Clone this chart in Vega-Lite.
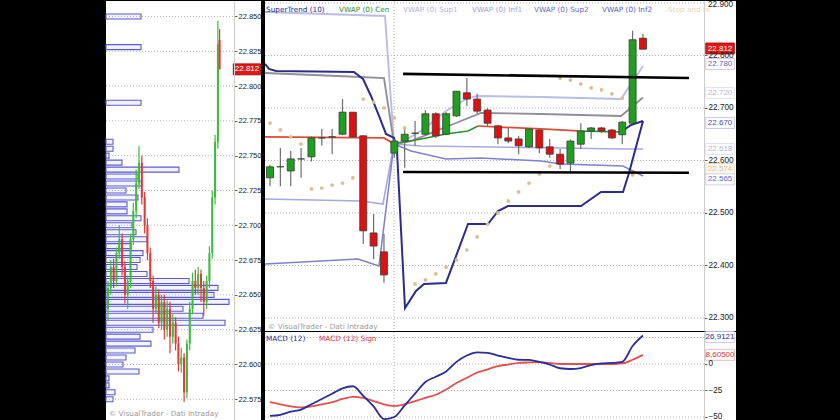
{
  "$schema": "https://vega.github.io/schema/vega-lite/v6.json",
  "background": "black",
  "padding": {"left": 105, "right": 105, "top": 0, "bottom": 0},
  "bounds": "flush",
  "spacing": 4,
  "config": {
    "view": {"fill": "white", "stroke": null},
    "axis": {"labelFont": "Liberation Sans", "labelFontSize": 8.2, "labelColor": "#222222", "tickColor": "#666666", "tickSize": 3, "domainColor": "#cccccc", "grid": false, "labelPadding": 1},
    "text": {"font": "DejaVu Sans"}
  },
  "datasets": {
    "profile": [
      {"p": 22.850, "vol": 35}, {"p": 22.828, "vol": 35}, {"p": 22.788, "vol": 35},
      {"p": 22.760, "vol": 7}, {"p": 22.755, "vol": 7}, {"p": 22.750, "vol": 3}, {"p": 22.745, "vol": 16},
      {"p": 22.740, "vol": 73}, {"p": 22.735, "vol": 32}, {"p": 22.730, "vol": 36}, {"p": 22.725, "vol": 20},
      {"p": 22.720, "vol": 32}, {"p": 22.715, "vol": 21}, {"p": 22.710, "vol": 21}, {"p": 22.705, "vol": 35},
      {"p": 22.700, "vol": 26}, {"p": 22.695, "vol": 30}, {"p": 22.690, "vol": 41}, {"p": 22.685, "vol": 25},
      {"p": 22.680, "vol": 37}, {"p": 22.675, "vol": 34}, {"p": 22.670, "vol": 31}, {"p": 22.665, "vol": 41},
      {"p": 22.660, "vol": 83}, {"p": 22.655, "vol": 112}, {"p": 22.650, "vol": 108}, {"p": 22.645, "vol": 123},
      {"p": 22.640, "vol": 77}, {"p": 22.635, "vol": 97}, {"p": 22.630, "vol": 119}, {"p": 22.625, "vol": 47},
      {"p": 22.620, "vol": 34}, {"p": 22.615, "vol": 45}, {"p": 22.610, "vol": 29}, {"p": 22.605, "vol": 20},
      {"p": 22.600, "vol": 17}, {"p": 22.595, "vol": 33}, {"p": 22.590, "vol": 3}, {"p": 22.585, "vol": 3},
      {"p": 22.580, "vol": 9}, {"p": 22.575, "vol": 7}
    ],
    "lc": [
      {"t": 0, "o": 22.640, "c": 22.655, "h": 22.660, "l": 22.632, "d": "u"},
      {"t": 1, "o": 22.655, "c": 22.670, "h": 22.675, "l": 22.650, "d": "u"},
      {"t": 2, "o": 22.670, "c": 22.660, "h": 22.676, "l": 22.655, "d": "d"},
      {"t": 3, "o": 22.660, "c": 22.680, "h": 22.684, "l": 22.656, "d": "u"},
      {"t": 4, "o": 22.680, "c": 22.690, "h": 22.700, "l": 22.676, "d": "u"},
      {"t": 5, "o": 22.690, "c": 22.670, "h": 22.694, "l": 22.664, "d": "d"},
      {"t": 6, "o": 22.670, "c": 22.650, "h": 22.674, "l": 22.644, "d": "d"},
      {"t": 7, "o": 22.650, "c": 22.660, "h": 22.664, "l": 22.640, "d": "u"},
      {"t": 8, "o": 22.660, "c": 22.690, "h": 22.694, "l": 22.655, "d": "u"},
      {"t": 9, "o": 22.690, "c": 22.710, "h": 22.716, "l": 22.686, "d": "u"},
      {"t": 10, "o": 22.710, "c": 22.730, "h": 22.740, "l": 22.705, "d": "u"},
      {"t": 11, "o": 22.730, "c": 22.745, "h": 22.757, "l": 22.726, "d": "u"},
      {"t": 12, "o": 22.745, "c": 22.720, "h": 22.750, "l": 22.715, "d": "d"},
      {"t": 13, "o": 22.720, "c": 22.700, "h": 22.724, "l": 22.694, "d": "d"},
      {"t": 14, "o": 22.700, "c": 22.680, "h": 22.705, "l": 22.675, "d": "d"},
      {"t": 15, "o": 22.680, "c": 22.660, "h": 22.684, "l": 22.655, "d": "d"},
      {"t": 16, "o": 22.660, "c": 22.640, "h": 22.664, "l": 22.630, "d": "d"},
      {"t": 17, "o": 22.640, "c": 22.650, "h": 22.656, "l": 22.636, "d": "u"},
      {"t": 18, "o": 22.650, "c": 22.630, "h": 22.654, "l": 22.626, "d": "d"},
      {"t": 19, "o": 22.630, "c": 22.645, "h": 22.650, "l": 22.625, "d": "u"},
      {"t": 20, "o": 22.645, "c": 22.625, "h": 22.650, "l": 22.618, "d": "d"},
      {"t": 21, "o": 22.625, "c": 22.640, "h": 22.646, "l": 22.620, "d": "u"},
      {"t": 22, "o": 22.640, "c": 22.620, "h": 22.645, "l": 22.608, "d": "d"},
      {"t": 23, "o": 22.620, "c": 22.630, "h": 22.636, "l": 22.615, "d": "u"},
      {"t": 24, "o": 22.630, "c": 22.615, "h": 22.634, "l": 22.610, "d": "d"},
      {"t": 25, "o": 22.615, "c": 22.600, "h": 22.620, "l": 22.595, "d": "d"},
      {"t": 26, "o": 22.600, "c": 22.605, "h": 22.612, "l": 22.594, "d": "u"},
      {"t": 27, "o": 22.605, "c": 22.580, "h": 22.608, "l": 22.573, "d": "d"},
      {"t": 28, "o": 22.580, "c": 22.615, "h": 22.618, "l": 22.576, "d": "u"},
      {"t": 29, "o": 22.615, "c": 22.640, "h": 22.645, "l": 22.610, "d": "u"},
      {"t": 30, "o": 22.640, "c": 22.660, "h": 22.666, "l": 22.636, "d": "u"},
      {"t": 31, "o": 22.660, "c": 22.655, "h": 22.668, "l": 22.650, "d": "d"},
      {"t": 32, "o": 22.655, "c": 22.665, "h": 22.670, "l": 22.650, "d": "u"},
      {"t": 33, "o": 22.665, "c": 22.655, "h": 22.668, "l": 22.645, "d": "d"},
      {"t": 34, "o": 22.655, "c": 22.645, "h": 22.660, "l": 22.635, "d": "d"},
      {"t": 35, "o": 22.645, "c": 22.660, "h": 22.664, "l": 22.640, "d": "u"},
      {"t": 36, "o": 22.660, "c": 22.680, "h": 22.685, "l": 22.655, "d": "u"},
      {"t": 37, "o": 22.680, "c": 22.720, "h": 22.725, "l": 22.676, "d": "u"},
      {"t": 38, "o": 22.720, "c": 22.760, "h": 22.765, "l": 22.715, "d": "u"},
      {"t": 39, "o": 22.760, "c": 22.830, "h": 22.847, "l": 22.755, "d": "u"},
      {"t": 39.6, "o": 22.833, "c": 22.812, "h": 22.841, "l": 22.812, "d": "d"}
    ],
    "candles": [
      {"i": 1, "o": 22.567, "h": 22.592, "l": 22.551, "c": 22.588, "d": "u"},
      {"i": 2, "o": 22.588, "h": 22.624, "l": 22.551, "c": 22.588, "d": "u"},
      {"i": 3, "o": 22.580, "h": 22.618, "l": 22.551, "c": 22.603, "d": "u"},
      {"i": 4, "o": 22.603, "h": 22.624, "l": 22.567, "c": 22.603, "d": "u"},
      {"i": 5, "o": 22.607, "h": 22.646, "l": 22.598, "c": 22.643, "d": "u"},
      {"i": 6, "o": 22.643, "h": 22.660, "l": 22.628, "c": 22.643, "d": "u"},
      {"i": 7, "o": 22.645, "h": 22.660, "l": 22.612, "c": 22.645, "d": "u"},
      {"i": 8, "o": 22.650, "h": 22.717, "l": 22.648, "c": 22.692, "d": "u"},
      {"i": 9, "o": 22.692, "h": 22.692, "l": 22.643, "c": 22.645, "d": "d"},
      {"i": 10, "o": 22.647, "h": 22.648, "l": 22.441, "c": 22.466, "d": "d"},
      {"i": 11, "o": 22.462, "h": 22.498, "l": 22.412, "c": 22.437, "d": "d"},
      {"i": 12, "o": 22.426, "h": 22.460, "l": 22.367, "c": 22.382, "d": "d"},
      {"i": 13, "o": 22.614, "h": 22.640, "l": 22.605, "c": 22.637, "d": "u"},
      {"i": 14, "o": 22.637, "h": 22.661, "l": 22.586, "c": 22.650, "d": "u"},
      {"i": 15, "o": 22.652, "h": 22.675, "l": 22.628, "c": 22.652, "d": "u"},
      {"i": 16, "o": 22.650, "h": 22.696, "l": 22.648, "c": 22.689, "d": "u"},
      {"i": 17, "o": 22.689, "h": 22.692, "l": 22.643, "c": 22.647, "d": "d"},
      {"i": 18, "o": 22.650, "h": 22.692, "l": 22.648, "c": 22.689, "d": "u"},
      {"i": 19, "o": 22.685, "h": 22.732, "l": 22.683, "c": 22.732, "d": "u"},
      {"i": 20, "o": 22.729, "h": 22.757, "l": 22.704, "c": 22.717, "d": "d"},
      {"i": 21, "o": 22.717, "h": 22.727, "l": 22.689, "c": 22.694, "d": "d"},
      {"i": 22, "o": 22.696, "h": 22.700, "l": 22.665, "c": 22.671, "d": "d"},
      {"i": 23, "o": 22.666, "h": 22.668, "l": 22.631, "c": 22.643, "d": "d"},
      {"i": 24, "o": 22.643, "h": 22.662, "l": 22.633, "c": 22.637, "d": "d"},
      {"i": 25, "o": 22.641, "h": 22.647, "l": 22.612, "c": 22.628, "d": "d"},
      {"i": 26, "o": 22.626, "h": 22.662, "l": 22.624, "c": 22.660, "d": "u"},
      {"i": 27, "o": 22.658, "h": 22.660, "l": 22.614, "c": 22.624, "d": "d"},
      {"i": 28, "o": 22.626, "h": 22.641, "l": 22.605, "c": 22.612, "d": "d"},
      {"i": 29, "o": 22.612, "h": 22.622, "l": 22.584, "c": 22.593, "d": "d"},
      {"i": 30, "o": 22.595, "h": 22.640, "l": 22.580, "c": 22.637, "d": "u"},
      {"i": 31, "o": 22.631, "h": 22.671, "l": 22.622, "c": 22.656, "d": "u"},
      {"i": 32, "o": 22.656, "h": 22.664, "l": 22.641, "c": 22.662, "d": "u"},
      {"i": 33, "o": 22.662, "h": 22.664, "l": 22.652, "c": 22.656, "d": "d"},
      {"i": 34, "o": 22.658, "h": 22.660, "l": 22.641, "c": 22.643, "d": "d"},
      {"i": 35, "o": 22.649, "h": 22.675, "l": 22.631, "c": 22.673, "d": "u"},
      {"i": 36, "o": 22.671, "h": 22.847, "l": 22.671, "c": 22.830, "d": "u"},
      {"i": 37, "o": 22.833, "h": 22.841, "l": 22.812, "c": 22.812, "d": "d"}
    ],
    "lines": [
      {"s": "sup2a", "i": 0.517, "p": 22.8829}, {"s": "sup2a", "i": 12.1, "p": 22.8752}, {"s": "sup2a", "i": 12.969, "p": 22.6314},
      {"s": "sup1a", "i": 0.517, "p": 22.7667}, {"s": "sup1a", "i": 7.564, "p": 22.7610}, {"s": "sup1a", "i": 12.004, "p": 22.7571}, {"s": "sup1a", "i": 12.969, "p": 22.6314},
      {"s": "red1", "i": 0.517, "p": 22.6448}, {"s": "red1", "i": 12.004, "p": 22.6429}, {"s": "red1", "i": 12.969, "p": 22.6314},
      {"s": "inf1a", "i": 0.517, "p": 22.5267}, {"s": "inf1a", "i": 9.784, "p": 22.5229}, {"s": "inf1a", "i": 11.907, "p": 22.5171}, {"s": "inf1a", "i": 12.969, "p": 22.6314},
      {"s": "inf2a", "i": 0.517, "p": 22.4029}, {"s": "inf2a", "i": 9.494, "p": 22.4124}, {"s": "inf2a", "i": 11.521, "p": 22.3990}, {"s": "inf2a", "i": 12.969, "p": 22.6314},
      {"s": "sup2b", "i": 12.969, "p": 22.6314}, {"s": "sup2b", "i": 13.934, "p": 22.6371}, {"s": "sup2b", "i": 15.865, "p": 22.66}, {"s": "sup2b", "i": 17.988, "p": 22.6943}, {"s": "sup2b", "i": 20.112, "p": 22.7190}, {"s": "sup2b", "i": 21.077, "p": 22.7229}, {"s": "sup2b", "i": 27.158, "p": 22.7210}, {"s": "sup2b", "i": 34.88, "p": 22.7171}, {"s": "sup2b", "i": 37.004, "p": 22.7800},
      {"s": "sup1b", "i": 12.969, "p": 22.6314}, {"s": "sup1b", "i": 14.61, "p": 22.6371}, {"s": "sup1b", "i": 17.506, "p": 22.66}, {"s": "sup1b", "i": 21.367, "p": 22.6905}, {"s": "sup1b", "i": 27.158, "p": 22.6886}, {"s": "sup1b", "i": 34.88, "p": 22.6848}, {"s": "sup1b", "i": 37.004, "p": 22.72},
      {"s": "cen1", "i": 12.969, "p": 22.6314}, {"s": "cen1", "i": 15.575, "p": 22.6410}, {"s": "cen1", "i": 17.988, "p": 22.6505}, {"s": "cen1", "i": 20.112, "p": 22.6562}, {"s": "cen1", "i": 21.077, "p": 22.6657},
      {"s": "red2", "i": 21.077, "p": 22.6657}, {"s": "red2", "i": 27.158, "p": 22.66}, {"s": "red2", "i": 30.73, "p": 22.6562},
      {"s": "cen2", "i": 30.73, "p": 22.6562}, {"s": "cen2", "i": 34.88, "p": 22.6543},
      {"s": "inf1b", "i": 12.969, "p": 22.6314}, {"s": "inf1b", "i": 15.575, "p": 22.6276}, {"s": "inf1b", "i": 29.089, "p": 22.6238}, {"s": "inf1b", "i": 34.88, "p": 22.6219}, {"s": "inf1b", "i": 37.004, "p": 22.6219},
      {"s": "inf2b", "i": 12.969, "p": 22.6314}, {"s": "inf2b", "i": 14.61, "p": 22.6181}, {"s": "inf2b", "i": 17.988, "p": 22.6029}, {"s": "inf2b", "i": 21.367, "p": 22.6048}, {"s": "inf2b", "i": 27.158, "p": 22.5990}, {"s": "inf2b", "i": 29.089, "p": 22.5933}, {"s": "inf2b", "i": 35.073, "p": 22.5895}, {"s": "inf2b", "i": 37.004, "p": 22.5705},
      {"s": "st", "i": 0.517, "p": 22.7838}, {"s": "st", "i": 0.903, "p": 22.7743}, {"s": "st", "i": 1.579, "p": 22.7705}, {"s": "st", "i": 9.108, "p": 22.7686}, {"s": "st", "i": 9.977, "p": 22.7552}, {"s": "st", "i": 10.749, "p": 22.7229}, {"s": "st", "i": 11.521, "p": 22.6848}, {"s": "st", "i": 12.197, "p": 22.6505}, {"s": "st", "i": 12.969, "p": 22.6429}, {"s": "st", "i": 13.259, "p": 22.6181}, {"s": "st", "i": 14.031, "p": 22.3190}, {"s": "st", "i": 15.093, "p": 22.3514}, {"s": "st", "i": 15.865, "p": 22.3648}, {"s": "st", "i": 17.988, "p": 22.3667}, {"s": "st", "i": 20.112, "p": 22.4790}, {"s": "st", "i": 22.042, "p": 22.4790}, {"s": "st", "i": 23.008, "p": 22.5038}, {"s": "st", "i": 23.973, "p": 22.5133}, {"s": "st", "i": 31.019, "p": 22.5133}, {"s": "st", "i": 32.95, "p": 22.5400}, {"s": "st", "i": 35.073, "p": 22.5400}, {"s": "st", "i": 35.653, "p": 22.5762}, {"s": "st", "i": 37.004, "p": 22.6752},
      {"s": "stc", "i": 34.88, "p": 22.6543}, {"s": "stc", "i": 35.846, "p": 22.6676}, {"s": "stc", "i": 37.004, "p": 22.6752}
    ],
    "tl": [
      {"s": "tl1", "i": 13.84, "p": 22.765}, {"s": "tl1", "i": 41.44, "p": 22.757},
      {"s": "tl2", "i": 13.84, "p": 22.578}, {"s": "tl2", "i": 41.44, "p": 22.5767}
    ],
    "sar": [
      {"i": 1, "p": 22.6714}, {"i": 2, "p": 22.6581}, {"i": 3, "p": 22.645}, {"i": 4, "p": 22.6314},
      {"i": 5, "p": 22.5457}, {"i": 6, "p": 22.5476}, {"i": 7, "p": 22.5533}, {"i": 8, "p": 22.5571}, {"i": 9, "p": 22.5667},
      {"i": 10, "p": 22.7171}, {"i": 11, "p": 22.7114}, {"i": 12, "p": 22.7000}, {"i": 13, "p": 22.6810}, {"i": 14, "p": 22.6619},
      {"i": 15, "p": 22.3648}, {"i": 16, "p": 22.3724}, {"i": 17, "p": 22.3838}, {"i": 18, "p": 22.3971}, {"i": 19, "p": 22.4105},
      {"i": 20, "p": 22.4295}, {"i": 21, "p": 22.4543}, {"i": 22, "p": 22.4790}, {"i": 23, "p": 22.5000}, {"i": 24, "p": 22.5229},
      {"i": 25, "p": 22.5400}, {"i": 26, "p": 22.5571}, {"i": 27, "p": 22.5743}, {"i": 28, "p": 22.5895},
      {"i": 29, "p": 22.7571}, {"i": 30, "p": 22.7533}, {"i": 31, "p": 22.7457}, {"i": 32, "p": 22.7381}, {"i": 33, "p": 22.7343},
      {"i": 34, "p": 22.7267}, {"i": 35, "p": 22.7190}, {"i": 36, "p": 22.5724}
    ],
    "macd": [
      {"i": 1, "m": -49, "g": -36}, {"i": 2, "m": -48, "g": -38}, {"i": 3, "m": -45, "g": -40}, {"i": 4, "m": -43, "g": -41},
      {"i": 5, "m": -38, "g": -40}, {"i": 6, "m": -33, "g": -38}, {"i": 7, "m": -28, "g": -36}, {"i": 8, "m": -23, "g": -33},
      {"i": 9, "m": -21, "g": -31}, {"i": 10, "m": -30, "g": -32}, {"i": 11, "m": -40, "g": -35}, {"i": 12, "m": -52, "g": -38},
      {"i": 13, "m": -50, "g": -39.5}, {"i": 14, "m": -39, "g": -38}, {"i": 15, "m": -28, "g": -35}, {"i": 16, "m": -17, "g": -32},
      {"i": 17, "m": -12, "g": -29}, {"i": 18, "m": -7, "g": -24}, {"i": 19, "m": 2, "g": -18}, {"i": 20, "m": 8, "g": -13},
      {"i": 21, "m": 11, "g": -8}, {"i": 22, "m": 10.5, "g": -5}, {"i": 23, "m": 8, "g": -2}, {"i": 24, "m": 5.7, "g": -0.5},
      {"i": 25, "m": 4, "g": 1}, {"i": 26, "m": 3.8, "g": 1.5}, {"i": 27, "m": 2, "g": 1.8}, {"i": 28, "m": -0.5, "g": 1},
      {"i": 29, "m": -4, "g": 0}, {"i": 30, "m": -4.7, "g": 0}, {"i": 31, "m": -3.8, "g": 0}, {"i": 32, "m": -1, "g": 0},
      {"i": 33, "m": 0.5, "g": 0}, {"i": 34, "m": 1, "g": 0}, {"i": 35, "m": 2, "g": 0.5}, {"i": 36, "m": 17, "g": 4},
      {"i": 37, "m": 26.9, "g": 8.6}
    ]
  },
  "hconcat": [
    {
      "width": 155,
      "height": 420,
      "resolve": {"scale": {"x": "independent"}},
      "layer": [
        {
          "data": {"name": "profile"},
          "mark": {"type": "bar", "orient": "horizontal", "size": 5, "fill": "#f3f3fd", "stroke": "#5b5bcf", "strokeWidth": 1.1},
          "encoding": {
            "y": {"field": "p", "type": "quantitative", "scale": {"domain": [22.5594, 22.8611], "nice": false, "zero": false, "padding": 0},
              "axis": {"orient": "right", "offset": -27, "values": [22.575, 22.6, 22.625, 22.65, 22.675, 22.7, 22.725, 22.75, 22.775, 22.8, 22.825, 22.85], "format": ".3f", "labelFontSize": 7.5, "title": null, "zindex": 1}},
            "x": {"field": "vol", "type": "quantitative", "scale": {"domain": [0, 155], "nice": false, "padding": 0}, "axis": null}
          }
        },
        {
          "data": {"values": [{"v": 22.575}, {"v": 22.6}, {"v": 22.625}, {"v": 22.65}, {"v": 22.675}, {"v": 22.7}, {"v": 22.725}, {"v": 22.75}, {"v": 22.775}, {"v": 22.8}, {"v": 22.825}, {"v": 22.85}]},
          "mark": {"type": "rule", "color": "#b4b4b4", "strokeDash": [1, 2], "strokeWidth": 1},
          "encoding": {
            "y": {"field": "v", "type": "quantitative", "scale": {"domain": [22.5594, 22.8611], "nice": false, "zero": false, "padding": 0},
              "axis": {"orient": "right", "offset": -27, "values": [22.575, 22.6, 22.625, 22.65, 22.675, 22.7, 22.725, 22.75, 22.775, 22.8, 22.825, 22.85], "format": ".3f", "labelFontSize": 7.5, "title": null, "zindex": 1}},
            "x": {"datum": 0, "type": "quantitative", "scale": {"domain": [0, 155], "nice": false, "padding": 0}, "axis": null},
            "x2": {"datum": 128}
          }
        },
        {
          "data": {"name": "lc"},
          "mark": {"type": "rule", "strokeWidth": 1.2},
          "encoding": {
            "x": {"field": "t", "type": "quantitative", "scale": {"domain": [-0.71, 54.3], "nice": false, "zero": false, "padding": 0}, "axis": null},
            "y": {"field": "l", "type": "quantitative", "scale": {"domain": [22.5594, 22.8611], "nice": false, "zero": false, "padding": 0},
              "axis": {"orient": "right", "offset": -27, "values": [22.575, 22.6, 22.625, 22.65, 22.675, 22.7, 22.725, 22.75, 22.775, 22.8, 22.825, 22.85], "format": ".3f", "labelFontSize": 7.5, "title": null, "zindex": 1}},
            "y2": {"field": "h"},
            "color": {"field": "d", "type": "nominal", "scale": {"domain": ["u", "d"], "range": ["#3cbc3c", "#e03a3a"]}, "legend": null}
          }
        },
        {
          "data": {"name": "lc"},
          "mark": {"type": "bar", "size": 2},
          "encoding": {
            "x": {"field": "t", "type": "quantitative", "scale": {"domain": [-0.71, 54.3], "nice": false, "zero": false, "padding": 0}, "axis": null},
            "y": {"field": "o", "type": "quantitative", "scale": {"domain": [22.5594, 22.8611], "nice": false, "zero": false, "padding": 0},
              "axis": {"orient": "right", "offset": -27, "values": [22.575, 22.6, 22.625, 22.65, 22.675, 22.7, 22.725, 22.75, 22.775, 22.8, 22.825, 22.85], "format": ".3f", "labelFontSize": 7.5, "title": null, "zindex": 1}},
            "y2": {"field": "c"},
            "color": {"field": "d", "type": "nominal", "scale": {"domain": ["u", "d"], "range": ["#3cbc3c", "#e03a3a"]}, "legend": null}
          }
        },
        {
          "data": {"values": [{"p": 22.812, "lab": "22.812"}]},
          "mark": {"type": "point", "shape": "M-1.25,-0.5H1.25V0.5H-1.25Z", "size": 484, "filled": true, "fill": "#e01818", "stroke": "#a00000", "strokeWidth": 0.8, "opacity": 1},
          "encoding": {
            "x": {"datum": 141, "type": "quantitative", "scale": {"domain": [0, 155], "nice": false, "padding": 0}, "axis": null},
            "y": {"field": "p", "type": "quantitative", "scale": {"domain": [22.5594, 22.8611], "nice": false, "zero": false, "padding": 0},
              "axis": {"orient": "right", "offset": -27, "values": [22.575, 22.6, 22.625, 22.65, 22.675, 22.7, 22.725, 22.75, 22.775, 22.8, 22.825, 22.85], "format": ".3f", "labelFontSize": 7.5, "title": null, "zindex": 1}}
          }
        },
        {
          "data": {"values": [{"p": 22.812, "lab": "22.812"}]},
          "mark": {"type": "text", "font": "Liberation Sans", "fontSize": 8, "color": "white", "align": "center", "baseline": "middle"},
          "encoding": {
            "x": {"datum": 141, "type": "quantitative", "scale": {"domain": [0, 155], "nice": false, "padding": 0}, "axis": null},
            "y": {"field": "p", "type": "quantitative", "scale": {"domain": [22.5594, 22.8611], "nice": false, "zero": false, "padding": 0},
              "axis": {"orient": "right", "offset": -27, "values": [22.575, 22.6, 22.625, 22.65, 22.675, 22.7, 22.725, 22.75, 22.775, 22.8, 22.825, 22.85], "format": ".3f", "labelFontSize": 7.5, "title": null, "zindex": 1}},
            "text": {"field": "lab"}
          }
        },
        {
          "data": {"values": [{"lab": "© VisualTrader - Dati Intraday", "p": 22.5644, "x": 3}]},
          "mark": {"type": "text", "fontSize": 7.3, "color": "#9a9a9a", "align": "left", "baseline": "middle"},
          "encoding": {
            "x": {"field": "x", "type": "quantitative", "scale": {"domain": [0, 155], "nice": false, "padding": 0}, "axis": null},
            "y": {"field": "p", "type": "quantitative", "scale": {"domain": [22.5594, 22.8611], "nice": false, "zero": false, "padding": 0},
              "axis": {"orient": "right", "offset": -27, "values": [22.575, 22.6, 22.625, 22.65, 22.675, 22.7, 22.725, 22.75, 22.775, 22.8, 22.825, 22.85], "format": ".3f", "labelFontSize": 7.5, "title": null, "zindex": 1}},
            "text": {"field": "lab"}
          }
        }
      ]
    },
    {
      "bounds": "flush",
      "spacing": 1,
      "vconcat": [
        {
          "width": 471,
          "height": 330,
          "resolve": {"scale": {"color": "independent", "fill": "independent", "stroke": "independent", "strokeWidth": "independent"}},
          "layer": [
            {
              "data": {"values": [{"v": 22.3}, {"v": 22.4}, {"v": 22.5}, {"v": 22.6}, {"v": 22.7}, {"v": 22.8}, {"v": 22.9}]},
              "mark": {"type": "rule", "color": "#b4b4b4", "strokeDash": [1, 2], "strokeWidth": 1},
              "encoding": {
                "y": {"field": "v", "type": "quantitative", "scale": {"domain": [22.2752, 22.9038], "nice": false, "zero": false, "padding": 0},
                  "axis": {"orient": "right", "offset": -32, "values": [22.3, 22.4, 22.5, 22.6, 22.7, 22.8], "format": ".3f", "title": null, "zindex": 1}},
                "x": {"datum": 0.517, "type": "quantitative", "scale": {"domain": [0.517, 45.98], "nice": false, "zero": false, "padding": 0}, "axis": null},
                "x2": {"datum": 42.89}
              }
            },
            {
              "data": {"values": [{"i": 12.97}]},
              "mark": {"type": "rule", "color": "#b4b4b4", "strokeDash": [1, 2], "strokeWidth": 1},
              "encoding": {
                "x": {"field": "i", "type": "quantitative", "scale": {"domain": [0.517, 45.98], "nice": false, "zero": false, "padding": 0}, "axis": null}
              }
            },
            {
              "data": {"name": "lines"},
              "mark": {"type": "line", "clip": true},
              "encoding": {
                "x": {"field": "i", "type": "quantitative", "scale": {"domain": [0.517, 45.98], "nice": false, "zero": false, "padding": 0}, "axis": null},
                "y": {"field": "p", "type": "quantitative", "scale": {"domain": [22.2752, 22.9038], "nice": false, "zero": false, "padding": 0},
                  "axis": {"orient": "right", "offset": -32, "values": [22.3, 22.4, 22.5, 22.6, 22.7, 22.8], "format": ".3f", "title": null, "zindex": 1}},
                "color": {"field": "s", "type": "nominal", "legend": null,
                  "scale": {"domain": ["st", "stc", "sup2a", "sup2b", "sup1a", "sup1b", "red1", "red2", "cen1", "cen2", "inf1a", "inf1b", "inf2a", "inf2b"],
                    "range": ["#2c2c8a", "#2c2c8a", "#bcbce8", "#bcbce8", "#8f8f9c", "#8f8f9c", "#e04a3a", "#e04a3a", "#2f8f2f", "#2f8f2f", "#a8a8e0", "#a8a8e0", "#8080cc", "#8080cc"]}},
                "strokeWidth": {"field": "s", "type": "ordinal", "legend": null,
                  "scale": {"domain": ["st", "stc", "sup2a", "sup2b", "sup1a", "sup1b", "red1", "red2", "cen1", "cen2", "inf1a", "inf1b", "inf2a", "inf2b"],
                    "range": [2, 1.5, 1.2, 1.2, 1.2, 1.2, 1.6, 1.6, 1.6, 1.6, 1.2, 1.2, 1.2, 1.2]}}
              }
            },
            {
              "data": {"name": "candles"},
              "mark": {"type": "rule", "color": "#6e6e6e", "strokeWidth": 1.2},
              "encoding": {
                "x": {"field": "i", "type": "quantitative", "scale": {"domain": [0.517, 45.98], "nice": false, "zero": false, "padding": 0}, "axis": null},
                "y": {"field": "l", "type": "quantitative", "scale": {"domain": [22.2752, 22.9038], "nice": false, "zero": false, "padding": 0},
                  "axis": {"orient": "right", "offset": -32, "values": [22.3, 22.4, 22.5, 22.6, 22.7, 22.8], "format": ".3f", "title": null, "zindex": 1}},
                "y2": {"field": "h"}
              }
            },
            {
              "data": {"name": "candles"},
              "mark": {"type": "bar", "size": 7, "stroke": "#3a3a3a", "strokeWidth": 0.8},
              "encoding": {
                "x": {"field": "i", "type": "quantitative", "scale": {"domain": [0.517, 45.98], "nice": false, "zero": false, "padding": 0}, "axis": null},
                "y": {"field": "o", "type": "quantitative", "scale": {"domain": [22.2752, 22.9038], "nice": false, "zero": false, "padding": 0},
                  "axis": {"orient": "right", "offset": -32, "values": [22.3, 22.4, 22.5, 22.6, 22.7, 22.8], "format": ".3f", "title": null, "zindex": 1}},
                "y2": {"field": "c"},
                "color": {"field": "d", "type": "nominal", "scale": {"domain": ["u", "d"], "range": ["#1ea01e", "#e01010"]}, "legend": null}
              }
            },
            {
              "data": {"name": "sar"},
              "mark": {"type": "point", "filled": true, "size": 14, "color": "#d8bf90", "opacity": 1},
              "encoding": {
                "x": {"field": "i", "type": "quantitative", "scale": {"domain": [0.517, 45.98], "nice": false, "zero": false, "padding": 0}, "axis": null},
                "y": {"field": "p", "type": "quantitative", "scale": {"domain": [22.2752, 22.9038], "nice": false, "zero": false, "padding": 0},
                  "axis": {"orient": "right", "offset": -32, "values": [22.3, 22.4, 22.5, 22.6, 22.7, 22.8], "format": ".3f", "title": null, "zindex": 1}}
              }
            },
            {
              "data": {"name": "tl"},
              "mark": {"type": "line", "color": "black", "strokeWidth": 2.6},
              "encoding": {
                "x": {"field": "i", "type": "quantitative", "scale": {"domain": [0.517, 45.98], "nice": false, "zero": false, "padding": 0}, "axis": null},
                "y": {"field": "p", "type": "quantitative", "scale": {"domain": [22.2752, 22.9038], "nice": false, "zero": false, "padding": 0},
                  "axis": {"orient": "right", "offset": -32, "values": [22.3, 22.4, 22.5, 22.6, 22.7, 22.8], "format": ".3f", "title": null, "zindex": 1}},
                "detail": {"field": "s"}
              }
            },
            {
              "data": {"values": [
                {"lab": "SuperTrend (10)", "i": 0.62, "p": 22.8867},
                {"lab": "VWAP (0) Cen", "i": 7.66, "p": 22.8867},
                {"lab": "VWAP (0) Sup1", "i": 13.84, "p": 22.8867},
                {"lab": "VWAP (0) Inf1", "i": 20.5, "p": 22.8867},
                {"lab": "VWAP (0) Sup2", "i": 26.48, "p": 22.8867},
                {"lab": "VWAP (0) Inf2", "i": 33.05, "p": 22.8867},
                {"lab": "Stop and re", "i": 39.42, "p": 22.8867},
                {"lab": "© VisualTrader - Dati Intraday", "i": 0.81, "p": 22.2829}
              ]},
              "mark": {"type": "text", "fontSize": 7.3, "align": "left", "baseline": "middle"},
              "encoding": {
                "x": {"field": "i", "type": "quantitative", "scale": {"domain": [0.517, 45.98], "nice": false, "zero": false, "padding": 0}, "axis": null},
                "y": {"field": "p", "type": "quantitative", "scale": {"domain": [22.2752, 22.9038], "nice": false, "zero": false, "padding": 0},
                  "axis": {"orient": "right", "offset": -32, "values": [22.3, 22.4, 22.5, 22.6, 22.7, 22.8], "format": ".3f", "title": null, "zindex": 1}},
                "text": {"field": "lab"},
                "color": {"field": "lab", "type": "nominal", "legend": null,
                  "scale": {"domain": ["SuperTrend (10)", "VWAP (0) Cen", "VWAP (0) Sup1", "VWAP (0) Inf1", "VWAP (0) Sup2", "VWAP (0) Inf2", "Stop and re", "© VisualTrader - Dati Intraday"],
                    "range": ["#2c2c8a", "#2f8f2f", "#b4b4e0", "#a0a0d8", "#6c6cc4", "#6060c0", "#e8d5b0", "#9a9a9a"]}}
              }
            },
            {
              "data": {"values": [{"lab": "22.900", "i": 43.28, "p": 22.8955}]},
              "mark": {"type": "text", "font": "Liberation Sans", "fontSize": 8.2, "color": "#222222", "align": "left", "baseline": "middle"},
              "encoding": {
                "x": {"field": "i", "type": "quantitative", "scale": {"domain": [0.517, 45.98], "nice": false, "zero": false, "padding": 0}, "axis": null},
                "y": {"field": "p", "type": "quantitative", "scale": {"domain": [22.2752, 22.9038], "nice": false, "zero": false, "padding": 0},
                  "axis": {"orient": "right", "offset": -32, "values": [22.3, 22.4, 22.5, 22.6, 22.7, 22.8], "format": ".3f", "title": null, "zindex": 1}},
                "text": {"field": "lab"}
              }
            },
            {
              "data": {"values": [
                {"p": 22.8133, "lab": "22.812"}, {"p": 22.7838, "lab": "22.780"}, {"p": 22.7286, "lab": "22.720"},
                {"p": 22.6714, "lab": "22.670"}, {"p": 22.6219, "lab": "22.618"}, {"p": 22.5838, "lab": "22.574"}, {"p": 22.5640, "lab": "22.565"}
              ]},
              "mark": {"type": "point", "shape": "M-1.3,-0.5H1.3V0.5H-1.3Z", "size": 484, "filled": true, "strokeWidth": 0.8, "opacity": 1},
              "encoding": {
                "x": {"datum": 44.44, "type": "quantitative", "scale": {"domain": [0.517, 45.98], "nice": false, "zero": false, "padding": 0}, "axis": null},
                "y": {"field": "p", "type": "quantitative", "scale": {"domain": [22.2752, 22.9038], "nice": false, "zero": false, "padding": 0},
                  "axis": {"orient": "right", "offset": -32, "values": [22.3, 22.4, 22.5, 22.6, 22.7, 22.8], "format": ".3f", "title": null, "zindex": 1}},
                "fill": {"field": "lab", "type": "nominal", "legend": null,
                  "scale": {"domain": ["22.812", "22.780", "22.720", "22.670", "22.618", "22.574", "22.565"], "range": ["#e01818", "#ffffff", "#ffffff", "#ffffff", "#ffffff", "#fbf6ec", "#ffffff"]}},
                "stroke": {"field": "lab", "type": "nominal", "legend": null,
                  "scale": {"domain": ["22.812", "22.780", "22.720", "22.670", "22.618", "22.574", "22.565"], "range": ["#a00000", "#c4c4e6", "#dadaf0", "#bcbce6", "#dadaf0", "#e6d6b6", "#c4c4e6"]}}
              }
            },
            {
              "data": {"values": [
                {"p": 22.8133, "lab": "22.812"}, {"p": 22.7838, "lab": "22.780"}, {"p": 22.7286, "lab": "22.720"},
                {"p": 22.6714, "lab": "22.670"}, {"p": 22.6219, "lab": "22.618"}, {"p": 22.5838, "lab": "22.574"}, {"p": 22.5640, "lab": "22.565"}
              ]},
              "mark": {"type": "text", "font": "Liberation Sans", "fontSize": 8, "align": "center", "baseline": "middle"},
              "encoding": {
                "x": {"datum": 44.44, "type": "quantitative", "scale": {"domain": [0.517, 45.98], "nice": false, "zero": false, "padding": 0}, "axis": null},
                "y": {"field": "p", "type": "quantitative", "scale": {"domain": [22.2752, 22.9038], "nice": false, "zero": false, "padding": 0},
                  "axis": {"orient": "right", "offset": -32, "values": [22.3, 22.4, 22.5, 22.6, 22.7, 22.8], "format": ".3f", "title": null, "zindex": 1}},
                "text": {"field": "lab"},
                "color": {"field": "lab", "type": "nominal", "legend": null,
                  "scale": {"domain": ["22.812", "22.780", "22.720", "22.670", "22.618", "22.574", "22.565"], "range": ["#ffffff", "#6464c8", "#b4b4e0", "#4848b4", "#b4b4e0", "#d8c49a", "#6464c8"]}}
              }
            }
          ]
        },
        {
          "width": 471,
          "height": 89,
          "resolve": {"scale": {"color": "independent", "stroke": "independent"}},
          "layer": [
            {
              "data": {"values": [{"v": 25}, {"v": 0}, {"v": -25}, {"v": -50}]},
              "mark": {"type": "rule", "color": "#b4b4b4", "strokeDash": [1, 2], "strokeWidth": 1},
              "encoding": {
                "y": {"field": "v", "type": "quantitative", "scale": {"domain": [-53.8, 30.2], "nice": false, "zero": false, "padding": 0},
                  "axis": {"orient": "right", "offset": -32, "values": [0, -25, -50], "format": "d", "title": null, "zindex": 1}},
                "x": {"datum": 0.517, "type": "quantitative", "scale": {"domain": [0.517, 45.98], "nice": false, "zero": false, "padding": 0}, "axis": null},
                "x2": {"datum": 42.89}
              }
            },
            {
              "data": {"values": [{"i": 12.97}]},
              "mark": {"type": "rule", "color": "#b4b4b4", "strokeDash": [1, 2], "strokeWidth": 1},
              "encoding": {
                "x": {"field": "i", "type": "quantitative", "scale": {"domain": [0.517, 45.98], "nice": false, "zero": false, "padding": 0}, "axis": null}
              }
            },
            {
              "data": {"name": "macd"},
              "mark": {"type": "line", "color": "#e05050", "strokeWidth": 1.8, "interpolate": "monotone", "clip": true},
              "encoding": {
                "x": {"field": "i", "type": "quantitative", "scale": {"domain": [0.517, 45.98], "nice": false, "zero": false, "padding": 0}, "axis": null},
                "y": {"field": "g", "type": "quantitative", "scale": {"domain": [-53.8, 30.2], "nice": false, "zero": false, "padding": 0},
                  "axis": {"orient": "right", "offset": -32, "values": [0, -25, -50], "format": "d", "title": null, "zindex": 1}}
              }
            },
            {
              "data": {"name": "macd"},
              "mark": {"type": "line", "color": "#2c2c9a", "strokeWidth": 1.8, "interpolate": "monotone", "clip": true},
              "encoding": {
                "x": {"field": "i", "type": "quantitative", "scale": {"domain": [0.517, 45.98], "nice": false, "zero": false, "padding": 0}, "axis": null},
                "y": {"field": "m", "type": "quantitative", "scale": {"domain": [-53.8, 30.2], "nice": false, "zero": false, "padding": 0},
                  "axis": {"orient": "right", "offset": -32, "values": [0, -25, -50], "format": "d", "title": null, "zindex": 1}}
              }
            },
            {
              "data": {"values": [
                {"lab": "MACD (12)", "i": 0.62, "v": 23.6},
                {"lab": "MACD (12) Sign", "i": 5.73, "v": 23.6}
              ]},
              "mark": {"type": "text", "fontSize": 7.3, "align": "left", "baseline": "middle"},
              "encoding": {
                "x": {"field": "i", "type": "quantitative", "scale": {"domain": [0.517, 45.98], "nice": false, "zero": false, "padding": 0}, "axis": null},
                "y": {"field": "v", "type": "quantitative", "scale": {"domain": [-53.8, 30.2], "nice": false, "zero": false, "padding": 0},
                  "axis": {"orient": "right", "offset": -32, "values": [0, -25, -50], "format": "d", "title": null, "zindex": 1}},
                "text": {"field": "lab"},
                "color": {"field": "lab", "type": "nominal", "legend": null,
                  "scale": {"domain": ["MACD (12)", "MACD (12) Sign"], "range": ["#2c2c9a", "#e03a3a"]}}
              }
            },
            {
              "data": {"values": [{"v": 25.5, "lab": "26,9121"}, {"v": 8.6, "lab": "8,60500"}]},
              "mark": {"type": "point", "shape": "M-1.3,-0.5H1.3V0.5H-1.3Z", "size": 484, "filled": true, "fill": "#ffffff", "strokeWidth": 0.8, "opacity": 1},
              "encoding": {
                "x": {"datum": 44.44, "type": "quantitative", "scale": {"domain": [0.517, 45.98], "nice": false, "zero": false, "padding": 0}, "axis": null},
                "y": {"field": "v", "type": "quantitative", "scale": {"domain": [-53.8, 30.2], "nice": false, "zero": false, "padding": 0},
                  "axis": {"orient": "right", "offset": -32, "values": [0, -25, -50], "format": "d", "title": null, "zindex": 1}},
                "stroke": {"field": "lab", "type": "nominal", "legend": null,
                  "scale": {"domain": ["26,9121", "8,60500"], "range": ["#c4c4e6", "#f0a8a8"]}}
              }
            },
            {
              "data": {"values": [{"v": 25.5, "lab": "26,9121"}, {"v": 8.6, "lab": "8,60500"}]},
              "mark": {"type": "text", "font": "Liberation Sans", "fontSize": 8, "align": "center", "baseline": "middle"},
              "encoding": {
                "x": {"datum": 44.44, "type": "quantitative", "scale": {"domain": [0.517, 45.98], "nice": false, "zero": false, "padding": 0}, "axis": null},
                "y": {"field": "v", "type": "quantitative", "scale": {"domain": [-53.8, 30.2], "nice": false, "zero": false, "padding": 0},
                  "axis": {"orient": "right", "offset": -32, "values": [0, -25, -50], "format": "d", "title": null, "zindex": 1}},
                "text": {"field": "lab"},
                "color": {"field": "lab", "type": "nominal", "legend": null,
                  "scale": {"domain": ["26,9121", "8,60500"], "range": ["#2c2c9a", "#e03030"]}}
              }
            }
          ]
        }
      ]
    }
  ]
}
